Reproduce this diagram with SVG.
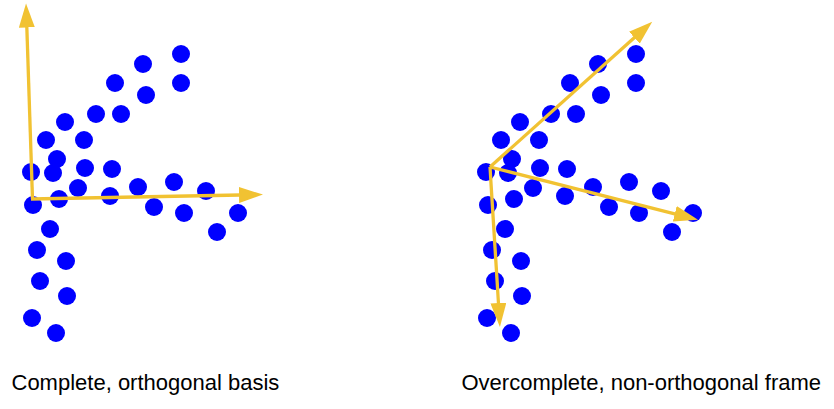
<svg xmlns="http://www.w3.org/2000/svg" xmlns:xlink="http://www.w3.org/1999/xlink" width="834" height="409" viewBox="0 0 834 409">
  <style>
    .dot { fill: #0000ff; }
    .axis { stroke: #f1c232; stroke-width: 3.3; fill: none; stroke-linejoin: miter; marker-end: url(#head); }
    .label { font-family: "Liberation Sans", Arial, sans-serif; font-size: 22px; fill: #000000; }
  </style>
  <defs>
    <marker id="head" markerUnits="userSpaceOnUse" markerWidth="25" markerHeight="16" refX="1" refY="8" orient="auto" viewBox="0 0 25 16">
      <path d="M0,0 L24,8 L0,16 z" fill="#f1c232"/>
    </marker>
    <g id="cloud">
      <circle class="dot" cx="181" cy="54" r="9"/>
      <circle class="dot" cx="143" cy="64" r="9"/>
      <circle class="dot" cx="181" cy="83" r="9"/>
      <circle class="dot" cx="115" cy="83" r="9"/>
      <circle class="dot" cx="146" cy="95" r="9"/>
      <circle class="dot" cx="96" cy="114" r="9"/>
      <circle class="dot" cx="121" cy="114" r="9"/>
      <circle class="dot" cx="65" cy="122" r="9"/>
      <circle class="dot" cx="46" cy="140" r="9"/>
      <circle class="dot" cx="84" cy="140" r="9"/>
      <circle class="dot" cx="57" cy="159" r="9"/>
      <circle class="dot" cx="31" cy="172" r="9"/>
      <circle class="dot" cx="53" cy="173" r="9"/>
      <circle class="dot" cx="85" cy="168" r="9"/>
      <circle class="dot" cx="112" cy="169" r="9"/>
      <circle class="dot" cx="78" cy="188" r="9"/>
      <circle class="dot" cx="138" cy="187" r="9"/>
      <circle class="dot" cx="174" cy="182" r="9"/>
      <circle class="dot" cx="206" cy="191" r="9"/>
      <circle class="dot" cx="33" cy="205" r="9"/>
      <circle class="dot" cx="59" cy="199" r="9"/>
      <circle class="dot" cx="110" cy="196" r="9"/>
      <circle class="dot" cx="154" cy="207" r="9"/>
      <circle class="dot" cx="184" cy="213" r="9"/>
      <circle class="dot" cx="238" cy="213" r="9"/>
      <circle class="dot" cx="217" cy="232" r="9"/>
      <circle class="dot" cx="50" cy="229" r="9"/>
      <circle class="dot" cx="37" cy="250" r="9"/>
      <circle class="dot" cx="66" cy="261" r="9"/>
      <circle class="dot" cx="40" cy="281" r="9"/>
      <circle class="dot" cx="67" cy="296" r="9"/>
      <circle class="dot" cx="32" cy="318" r="9"/>
      <circle class="dot" cx="56" cy="333" r="9"/>
    </g>
  </defs>

  <g id="left-points">
    <use xlink:href="#cloud" href="#cloud"/>
  </g>
  <g id="right-points">
    <use xlink:href="#cloud" href="#cloud" transform="translate(455,0)"/>
  </g>

  <g id="connectors">
    <!-- left: orthogonal basis -->
    <path class="axis" d="M32.5,199 L26.8,26.5"/>
    <path class="axis" d="M31,199 L240,195"/>
    <!-- right: overcomplete frame -->
    <path class="axis" d="M490,167 L635.1,37"/>
    <path class="axis" d="M490,167 L675.7,214.1"/>
    <path class="axis" d="M490,167 L498.5,304"/>
  </g>

  <g id="labels">
    <text class="label" x="11.5" y="390">Complete, orthogonal basis</text>
    <text class="label" x="461.5" y="390">Overcomplete, non-orthogonal frame</text>
  </g>
</svg>
